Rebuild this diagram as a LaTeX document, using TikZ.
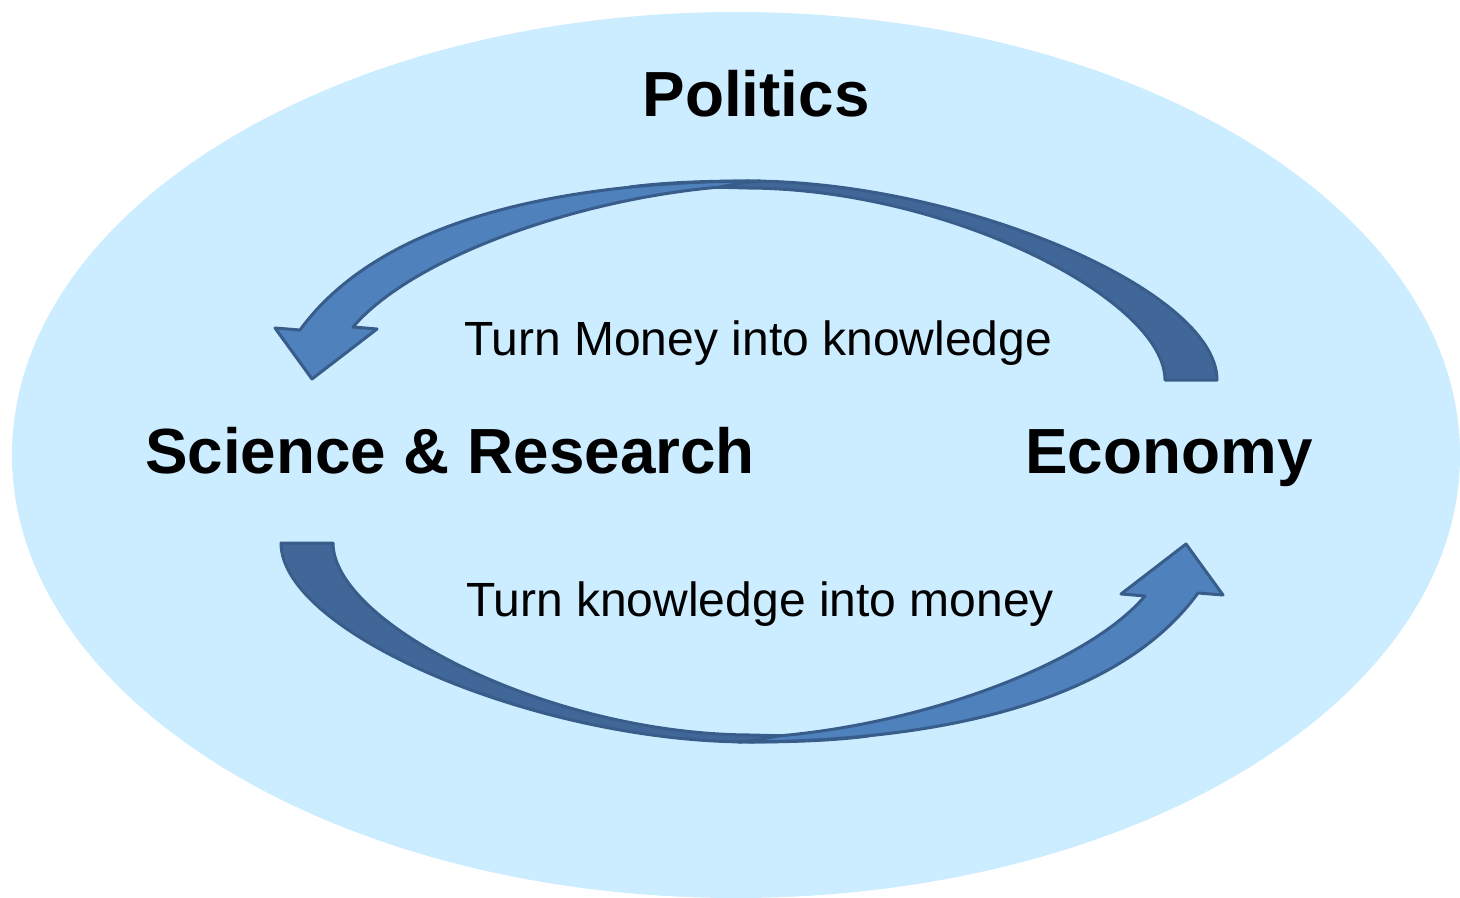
\documentclass[tikz,border=0pt]{standalone}
\usepackage{fontspec}
\setmainfont{Liberation Sans}
\definecolor{bgblue}{RGB}{204,236,255}
\definecolor{arrlight}{RGB}{79,129,189}
\definecolor{arrdark}{RGB}{64,103,151}
\definecolor{arredge}{RGB}{56,93,138}
\tikzset{
  bigtxt/.style={anchor=base, font=\fontsize{31.9}{36}\selectfont\bfseries, inner sep=0pt},
  smalltxt/.style={anchor=base, font=\fontsize{24}{28}\selectfont, inner sep=0pt},
  backband/.style={fill=arrdark, draw=arredge, line width=1.5pt, line join=round},
  frontband/.style={fill=arrlight, draw=arredge, line width=1.5pt, line join=round}
}
\newcommand{\curvedarrow}{%
  % back (dark) band from tail up over the top
  \path[backband] (1217,380) .. controls (1217,290) and (960,181) .. (748,181)
        .. controls (700,181) and (660,183) .. (630,187)
        .. controls (670,186) and (710,187) .. (748,188)
        .. controls (950,189) and (1165,300) .. (1165,380) -- cycle;
  % front (light) band with head
  \path[frontband] (300,330) .. controls (380,220) and (560,181) .. (760,181)
        .. controls (740,183) and (730,185) .. (720,187)
        .. controls (570,200) and (410,260) .. (353,327)
        -- (377,329) -- (312,379) -- (275,328) -- cycle;
}
\begin{document}
\begin{tikzpicture}[x=0.5pt, y=-0.5pt]
\useasboundingbox (0,0) rectangle (1460,898);
\clip (0,0) rectangle (1460,898);
\fill[bgblue] (736,455) ellipse [x radius=724, y radius=443];
\curvedarrow
\begin{scope}[rotate around={180:(749,461.5)}]
\curvedarrow
\end{scope}
\node[bigtxt] (pol) at (756,117) {Politics};
\node[bigtxt] (sci) at (450,473) {Science \& Research};
\node[bigtxt] (eco) at (1169,473) {Economy};
\node[smalltxt] (m2k) at (758,356) {Turn Money into knowledge};
\node[smalltxt] (k2m) at (760,616) {Turn knowledge into money};
\end{tikzpicture}
\end{document}
